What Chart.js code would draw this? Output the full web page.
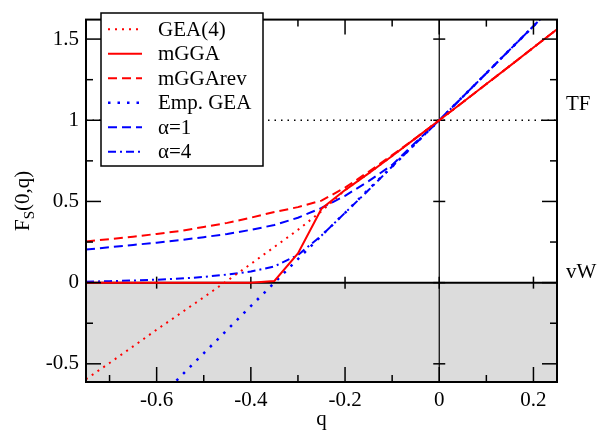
<!DOCTYPE html>
<html><head><meta charset="utf-8">
<script src="https://cdn.jsdelivr.net/npm/chart.js@4/dist/chart.umd.min.js"></script>
<style>html,body{margin:0;padding:0;background:#fff}.pre{font-family:"Liberation Serif";position:absolute;left:-999px;top:0}</style>
</head><body>
<span class="pre">Fq0.5 α TF vW</span>
<canvas id="c" width="597" height="430"></canvas>
<script>
// ---- data ----
const qValues = [-0.75,-0.70,-0.65,-0.60,-0.55,-0.50,-0.45,-0.40,-0.35,-0.30,-0.25,-0.20,-0.15,-0.10,-0.05,0,0.05,0.10,0.15,0.20,0.25];
const gea4    = [-0.595,-0.495,-0.393,-0.29,-0.19,-0.09,0.012,0.115,0.22,0.325,0.44,0.57,0.673,0.78,0.89,1,1.111,1.223,1.335,1.448,1.56];
const mgga    = [0,0,0,0,0,0,0,0,0.01,0.18,0.455,0.57,0.673,0.78,0.89,1,1.111,1.223,1.335,1.448,1.56];
const mggaRev = [0.254,0.268,0.283,0.30,0.318,0.343,0.368,0.40,0.435,0.465,0.505,0.585,0.683,0.785,0.89,1,1.111,1.223,1.335,1.448,1.56];
const empGea  = [null,null,null,-0.73,-0.58,-0.435,-0.29,-0.145,0,0.145,0.29,0.43,0.575,0.715,0.857,1,1.145,1.29,1.435,1.58,1.725];
const alpha1  = [0.204,0.218,0.232,0.246,0.262,0.28,0.30,0.325,0.355,0.40,0.46,0.535,0.625,0.725,0.865,1,1.145,1.29,1.435,1.58,1.725];
const alpha4  = [0.006,0.009,0.013,0.018,0.025,0.035,0.05,0.068,0.10,0.17,0.29,0.43,0.57,0.715,0.857,1,1.145,1.29,1.435,1.58,1.725];
const seriesNames = ['GEA(4)','mGGA','mGGArev','Emp. GEA','α=1','α=4'];
const xTickValues = [-0.6,-0.4,-0.2,0,0.2];
const xTickLabels = ['-0.6','-0.4','-0.2','0','0.2'];
const xMinorTicks = [-0.7,-0.5,-0.3,-0.1,0.1];
const yTickValues = [-0.5,0,0.5,1,1.5];
const yTickLabels = ['-0.5','0','0.5','1','1.5'];
const yMinorTicks = [-0.25,0.25,0.75,1.25];
const refLabels = ['TF','vW'];
const xTitle = 'q';

const FONT = '"Liberation Serif", "Times New Roman", serif';
const RED = '#ff0000', BLUE = '#0000ff';

function pts(arr){ return qValues.map((q,i)=>({x:q,y:arr[i]})); }

const datasets = [
  {label:seriesNames[0], data:pts(gea4),    borderColor:RED,  borderWidth:2,   borderDash:[2,5]},
  {label:seriesNames[1], data:pts(mgga),    borderColor:RED,  borderWidth:2,   borderDash:[]},
  {label:seriesNames[2], data:pts(mggaRev), borderColor:RED,  borderWidth:2,   borderDash:[9,5]},
  {label:seriesNames[3], data:pts(empGea),  borderColor:BLUE, borderWidth:2.5, borderDash:[2.5,7]},
  {label:seriesNames[4], data:pts(alpha1),  borderColor:BLUE, borderWidth:2,   borderDash:[9,5]},
  {label:seriesNames[5], data:pts(alpha4),  borderColor:BLUE, borderWidth:2,   borderDash:[8,4,2,4]}
];
datasets.forEach(d=>{d.fill=false;d.pointRadius=0;d.tension=0;d.spanGaps=false;});

function line(ctx,x1,y1,x2,y2){ctx.beginPath();ctx.moveTo(x1,y1);ctx.lineTo(x2,y2);ctx.stroke();}

const decor = {
  id:'decor',
  beforeDatasetsDraw(chart){
    const {ctx, chartArea:a, scales:{x,y}} = chart;
    const y0 = y.getPixelForValue(0), y1 = y.getPixelForValue(1), x0 = x.getPixelForValue(0);
    ctx.save();
    ctx.fillStyle = '#dcdcdc';
    ctx.fillRect(a.left, y0, a.right-a.left, a.bottom-y0);
    ctx.strokeStyle = '#000';
    ctx.lineWidth = 1.5; ctx.setLineDash([1.5,5]);
    line(ctx,a.left,y1,a.right,y1);
    ctx.setLineDash([]);
    ctx.lineWidth = 1.2; line(ctx,x0,a.top,x0,a.bottom);
    ctx.lineWidth = 2; line(ctx,a.left,y0,a.right,y0);
    ctx.lineWidth = 1.5;
    xTickValues.forEach(v=>{const px=x.getPixelForValue(v); line(ctx,px,y0-6,px,y0+6);});
    yTickValues.forEach(v=>{const py=y.getPixelForValue(v); line(ctx,x0-6,py,x0+6,py);});
    ctx.restore();
  },
  afterDatasetsDraw(chart){
    const {ctx, chartArea:a, scales:{x,y}} = chart;
    ctx.save();
    ctx.strokeStyle='#000';
    ctx.lineWidth = 2;
    ctx.strokeRect(a.left, a.top, a.right-a.left, a.bottom-a.top);
    ctx.lineWidth = 1.5;
    const M=15, m=7;
    xTickValues.forEach(v=>{const px=x.getPixelForValue(v); line(ctx,px,a.bottom,px,a.bottom-M); line(ctx,px,a.top,px,a.top+M);});
    xMinorTicks.forEach(v=>{const px=x.getPixelForValue(v); line(ctx,px,a.bottom,px,a.bottom-m); line(ctx,px,a.top,px,a.top+m);});
    yTickValues.forEach(v=>{const py=y.getPixelForValue(v); line(ctx,a.left,py,a.left+M,py); line(ctx,a.right,py,a.right-M,py);});
    yMinorTicks.forEach(v=>{const py=y.getPixelForValue(v); line(ctx,a.left,py,a.left+m,py); line(ctx,a.right,py,a.right-m,py);});
    // legend
    const bx=101, by=13, bw=162, bh=153;
    ctx.fillStyle='#fff'; ctx.fillRect(bx,by,bw,bh);
    ctx.lineWidth=1.5; ctx.strokeRect(bx,by,bw,bh);
    ctx.font = '21px '+FONT; ctx.textBaseline='middle'; ctx.textAlign='left';
    chart.data.datasets.forEach((d,i)=>{
      const ry = 29.3 + i*24.5;
      ctx.strokeStyle=d.borderColor; ctx.lineWidth=d.borderWidth; ctx.setLineDash(d.borderDash||[]);
      line(ctx,108,ry,142,ry);
      ctx.setLineDash([]);
      ctx.fillStyle='#000'; ctx.fillText(d.label,158,ry+1);
    });
    ctx.fillStyle='#000'; ctx.textBaseline='middle';
    ctx.fillText(refLabels[0], 566, y.getPixelForValue(1.1));
    ctx.fillText(refLabels[1], 566, y.getPixelForValue(0.06));
    ctx.textAlign='center'; ctx.textBaseline='alphabetic';
    ctx.fillText(xTitle, (a.left+a.right)/2, 425);
    ctx.translate(22,(a.top+a.bottom)/2); ctx.rotate(-Math.PI/2);
    const f1='21px '+FONT, f2='15px '+FONT;
    ctx.font=f1; const wF=ctx.measureText('F').width, wR=ctx.measureText('(0,q)').width;
    ctx.font=f2; const wS=ctx.measureText('S').width;
    let sx=-(wF+wS+wR)/2;
    ctx.textAlign='left'; ctx.textBaseline='alphabetic';
    ctx.font=f1; ctx.fillText('F',sx,7); sx+=wF;
    ctx.font=f2; ctx.fillText('S',sx,12); sx+=wS;
    ctx.font=f1; ctx.fillText('(0,q)',sx,7);
    ctx.restore();
  }
};

function build(){
  new Chart(document.getElementById('c'), {
    type:'line',
    data:{datasets},
    options:{
      responsive:false, animation:false, devicePixelRatio:1,
      layout:{padding:{left:0,right:40,top:10,bottom:0}},
      plugins:{legend:{display:false}, tooltip:{enabled:false}},
      scales:{
        x:{type:'linear', min:-0.75, max:0.25,
           afterBuildTicks:s=>{s.ticks=xTickValues.map(v=>({value:v}));},
           afterFit:s=>{s.height=48;},
           ticks:{callback:(v)=>xTickLabels[xTickValues.indexOf(v)] ?? '', font:{family:FONT,size:21}, color:'#000', padding:6, maxRotation:0, autoSkip:false},
           grid:{display:false, drawTicks:false}, border:{display:false}},
        y:{type:'linear', min:-0.612, max:1.62,
           afterBuildTicks:s=>{s.ticks=yTickValues.map(v=>({value:v}));},
           afterFit:s=>{s.width=86;},
           ticks:{callback:(v)=>yTickLabels[yTickValues.indexOf(v)] ?? '', font:{family:FONT,size:21}, color:'#000', padding:7, autoSkip:false},
           grid:{display:false, drawTicks:false}, border:{display:false}}
      }
    },
    plugins:[decor]
  });
}
let built=false;
function go(){ if(!built){built=true;build();} }
if (document.fonts && document.fonts.load) {
  Promise.all([document.fonts.load('21px "Liberation Serif"'), document.fonts.load('15px "Liberation Serif"')]).then(go, go);
  setTimeout(go, 1500);
} else go();
</script>
</body></html>
